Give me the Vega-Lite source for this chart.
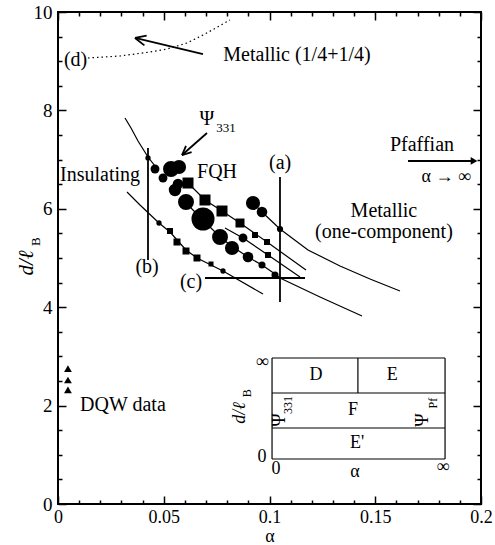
{
  "$schema": "https://vega.github.io/schema/vega-lite/v6.json",
  "width": 423,
  "height": 492,
  "autosize": "none",
  "padding": {"left": 58, "top": 12, "right": 14, "bottom": 41},
  "background": "white",
  "config": {
    "font": "Liberation Serif",
    "view": {"stroke": "black", "strokeWidth": 2},
    "axis": {"grid": false, "domain": false, "tickColor": "black", "labelColor": "black", "titleColor": "black", "labelFont": "Liberation Serif", "titleFont": "Liberation Serif", "labelFontSize": 19, "tickWidth": 1.5, "labelFlush": false, "labelOverlap": false, "titleFontWeight": "normal"}
  },
  "datasets": {
    "curves": [
      {"s": "ul", "i": 0, "x": 0.03168, "y": 7.846}, {"s": "ul", "i": 1, "x": 0.03452, "y": 7.642}, {"s": "ul", "i": 2, "x": 0.03783, "y": 7.378}, {"s": "ul", "i": 3, "x": 0.04255, "y": 7.053}, {"s": "ul", "i": 4, "x": 0.04728, "y": 6.789},
      {"s": "low", "i": 0, "x": 0.03262, "y": 6.341}, {"s": "low", "i": 1, "x": 0.03877, "y": 6.077}, {"s": "low", "i": 2, "x": 0.04775, "y": 5.711}, {"s": "low", "i": 3, "x": 0.05296, "y": 5.528}, {"s": "low", "i": 4, "x": 0.06052, "y": 5.163}, {"s": "low", "i": 5, "x": 0.06572, "y": 5.0}, {"s": "low", "i": 6, "x": 0.07234, "y": 4.858}, {"s": "low", "i": 7, "x": 0.07801, "y": 4.736}, {"s": "low", "i": 8, "x": 0.09693, "y": 4.268},
      {"s": "U", "i": 0, "x": 0.0922, "y": 6.118}, {"s": "U", "i": 1, "x": 0.09645, "y": 5.935}, {"s": "U", "i": 2, "x": 0.10496, "y": 5.589}, {"s": "U", "i": 3, "x": 0.1182, "y": 5.163}, {"s": "U", "i": 4, "x": 0.13333, "y": 4.837}, {"s": "U", "i": 5, "x": 0.14752, "y": 4.573}, {"s": "U", "i": 6, "x": 0.1617, "y": 4.329},
      {"s": "P", "i": 0, "x": 0.06147, "y": 6.524}, {"s": "P", "i": 1, "x": 0.0695, "y": 6.179}, {"s": "P", "i": 2, "x": 0.07754, "y": 5.955}, {"s": "P", "i": 3, "x": 0.08605, "y": 5.711}, {"s": "P", "i": 4, "x": 0.09882, "y": 5.325}, {"s": "P", "i": 5, "x": 0.11726, "y": 4.756},
      {"s": "M", "i": 0, "x": 0.06005, "y": 6.138}, {"s": "M", "i": 1, "x": 0.06856, "y": 5.772}, {"s": "M", "i": 2, "x": 0.0766, "y": 5.427}, {"s": "M", "i": 3, "x": 0.08274, "y": 5.224}, {"s": "M", "i": 4, "x": 0.08983, "y": 5.02}, {"s": "M", "i": 5, "x": 0.09645, "y": 4.858}, {"s": "M", "i": 6, "x": 0.1026, "y": 4.675}, {"s": "M", "i": 7, "x": 0.10496, "y": 4.593}, {"s": "M", "i": 8, "x": 0.12388, "y": 4.207}, {"s": "M", "i": 9, "x": 0.14374, "y": 3.821},
      {"s": "N", "i": 0, "x": 0.07896, "y": 5.61}, {"s": "N", "i": 1, "x": 0.08747, "y": 5.407}, {"s": "N", "i": 2, "x": 0.09929, "y": 5.061}, {"s": "N", "i": 3, "x": 0.11442, "y": 4.614}
    ],
    "dotted": [
      {"i": 0, "x": 0.01418, "y": 9.065}, {"i": 1, "x": 0.02931, "y": 9.106}, {"i": 2, "x": 0.0435, "y": 9.187}, {"i": 3, "x": 0.05154, "y": 9.248}, {"i": 4, "x": 0.06099, "y": 9.37}, {"i": 5, "x": 0.0695, "y": 9.553}, {"i": 6, "x": 0.08132, "y": 9.837}
    ],
    "marks": [
      {"x": 0.04255, "y": 7.033, "shape": "circle", "n": 28},
      {"x": 0.04586, "y": 6.809, "shape": "circle", "n": 79},
      {"x": 0.04965, "y": 6.626, "shape": "circle", "n": 79},
      {"x": 0.05343, "y": 6.809, "shape": "circle", "n": 254},
      {"x": 0.05721, "y": 6.85, "shape": "circle", "n": 201},
      {"x": 0.05674, "y": 6.504, "shape": "circle", "n": 113},
      {"x": 0.05532, "y": 6.382, "shape": "circle", "n": 154},
      {"x": 0.06052, "y": 6.138, "shape": "circle", "n": 254},
      {"x": 0.06856, "y": 5.793, "shape": "circle", "n": 531},
      {"x": 0.0766, "y": 5.427, "shape": "circle", "n": 254},
      {"x": 0.08227, "y": 5.203, "shape": "circle", "n": 201},
      {"x": 0.08747, "y": 5.407, "shape": "circle", "n": 79},
      {"x": 0.08983, "y": 5.02, "shape": "circle", "n": 113},
      {"x": 0.09645, "y": 4.858, "shape": "circle", "n": 50},
      {"x": 0.1026, "y": 4.654, "shape": "circle", "n": 50},
      {"x": 0.0922, "y": 6.118, "shape": "circle", "n": 201},
      {"x": 0.09645, "y": 5.935, "shape": "circle", "n": 113},
      {"x": 0.10496, "y": 5.589, "shape": "circle", "n": 38},
      {"x": 0.06147, "y": 6.524, "shape": "square", "n": 121},
      {"x": 0.0695, "y": 6.179, "shape": "square", "n": 121},
      {"x": 0.07754, "y": 5.955, "shape": "square", "n": 121},
      {"x": 0.08605, "y": 5.711, "shape": "square", "n": 81},
      {"x": 0.09314, "y": 5.467, "shape": "square", "n": 36},
      {"x": 0.09882, "y": 5.325, "shape": "square", "n": 36},
      {"x": 0.09929, "y": 5.061, "shape": "square", "n": 36},
      {"x": 0.04775, "y": 5.711, "shape": "circle", "n": 28},
      {"x": 0.05296, "y": 5.549, "shape": "square", "n": 36},
      {"x": 0.05626, "y": 5.325, "shape": "square", "n": 49},
      {"x": 0.06052, "y": 5.142, "shape": "square", "n": 49},
      {"x": 0.06572, "y": 5.0, "shape": "square", "n": 49},
      {"x": 0.07234, "y": 4.878, "shape": "square", "n": 25},
      {"x": 0.07801, "y": 4.736, "shape": "circle", "n": 28}
    ],
    "dqw": [
      {"x": 0.0047, "y": 2.75}, {"x": 0.0047, "y": 2.52}, {"x": 0.0047, "y": 2.32}
    ],
    "guides": [
      {"id": "a", "x": 0.10496, "x2": 0.10496, "y": 4.106, "y2": 6.646},
      {"id": "b", "x": 0.04255, "x2": 0.04255, "y": 4.959, "y2": 7.236},
      {"id": "c", "x": 0.0695, "x2": 0.11678, "y": 4.593, "y2": 4.593},
      {"id": "met", "x": 0.06856, "x2": 0.0364, "y": 9.146, "y2": 9.472},
      {"id": "met1", "x": 0.0364, "x2": 0.04085, "y": 9.472, "y2": 9.321},
      {"id": "met2", "x": 0.0364, "x2": 0.0419, "y": 9.472, "y2": 9.522},
      {"id": "psi", "x": 0.07045, "x2": 0.05863, "y": 7.541, "y2": 7.093},
      {"id": "psi1", "x": 0.05863, "x2": 0.06317, "y": 7.093, "y2": 7.15},
      {"id": "psi2", "x": 0.05863, "x2": 0.06052, "y": 7.093, "y2": 7.28},
      {"id": "pf", "x": 0.1655, "x2": 0.1962, "y": 6.972, "y2": 6.972}
    ],
    "heads": [{"x": 0.1967, "y": 6.972}],
    "inset": [
      {"x": 0.1012, "x2": 0.183, "y": 2.967, "y2": 2.967},
      {"x": 0.1012, "x2": 0.183, "y": 2.256, "y2": 2.256},
      {"x": 0.1012, "x2": 0.183, "y": 1.545, "y2": 1.545},
      {"x": 0.1012, "x2": 0.183, "y": 0.915, "y2": 0.915},
      {"x": 0.1012, "x2": 0.1012, "y": 0.915, "y2": 2.967},
      {"x": 0.183, "x2": 0.183, "y": 0.915, "y2": 2.967},
      {"x": 0.1418, "x2": 0.1418, "y": 2.256, "y2": 2.967}
    ],
    "labels": [
      {"t": "Metallic (1/4+1/4)", "x": 0.113, "y": 9.13},
      {"t": "(d)", "x": 0.0083, "y": 9.02},
      {"t": "Ψ", "x": 0.0704, "y": 7.82},
      {"t": "Pfaffian", "x": 0.1721, "y": 7.3},
      {"t": "Insulating", "x": 0.0199, "y": 6.69},
      {"t": "FQH", "x": 0.0752, "y": 6.75},
      {"t": "(a)", "x": 0.105, "y": 6.93},
      {"t": "(b)", "x": 0.0421, "y": 4.82},
      {"t": "(c)", "x": 0.0629, "y": 4.51},
      {"t": "Metallic", "x": 0.1541, "y": 5.95},
      {"t": "(one-component)", "x": 0.1541, "y": 5.52},
      {"t": "DQW  data", "x": 0.0307, "y": 2.02}
    ],
    "small": [
      {"t": "α → ∞", "x": 0.1835, "y": 6.65}
    ],
    "subs": [
      {"t": "331", "x": 0.0794, "y": 7.64}
    ],
    "insetLabels": [
      {"t": "D", "x": 0.122, "y": 2.62},
      {"t": "E", "x": 0.158, "y": 2.62},
      {"t": "F", "x": 0.1395, "y": 1.91},
      {"t": "E'", "x": 0.1414, "y": 1.24},
      {"t": "0", "x": 0.0965, "y": 0.96},
      {"t": "∞", "x": 0.0965, "y": 2.89},
      {"t": "0", "x": 0.1031, "y": 0.71},
      {"t": "α", "x": 0.1404, "y": 0.65},
      {"t": "∞", "x": 0.182, "y": 0.75}
    ],
    "rotPsi": [
      {"t": "Ψ", "x": 0.105, "y": 1.707},
      {"t": "Ψ", "x": 0.1726, "y": 1.707}
    ],
    "rotSubs": [
      {"t": "331", "x": 0.1087, "y": 2.01},
      {"t": "Pf", "x": 0.1773, "y": 2.05}
    ],
    "yTitle": [{"t": "d/ℓ", "x": -0.0147, "y": 4.9}],
    "yTitleSub": [{"t": "B", "x": -0.0104, "y": 5.33}],
    "insetTitle": [{"t": "d/ℓ", "x": 0.0862, "y": 1.85}],
    "insetTitleSub": [{"t": "B", "x": 0.0895, "y": 2.25}]
  },
  "resolve": {"axis": {"x": "independent", "y": "independent"}},
  "layer": [
    {
      "data": {"name": "curves"},
      "mark": {"type": "line", "color": "black", "strokeWidth": 1.2},
      "encoding": {
        "x": {"field": "x", "type": "quantitative", "scale": {"domain": [0, 0.2], "nice": false, "zero": false},
              "axis": {"orient": "bottom", "values": [0, 0.05, 0.1, 0.15, 0.2], "format": "~g", "tickSize": -8, "labelPadding": 12, "labelFontSize": 18, "title": "α", "titleFontSize": 18, "titlePadding": 1}},
        "y": {"field": "y", "type": "quantitative", "scale": {"domain": [0, 10], "nice": false, "zero": false},
              "axis": {"orient": "left", "values": [0, 2, 4, 6, 8, 10], "tickSize": -8, "labelPadding": 14, "title": null}},
        "detail": {"field": "s"},
        "order": {"field": "i"}
      }
    },
    {
      "data": {"name": "marks"},
      "mark": {"type": "point", "filled": true, "color": "black", "opacity": 1},
      "encoding": {
        "x": {"field": "x", "type": "quantitative",
              "axis": {"orient": "bottom", "values": [0.01, 0.02, 0.03, 0.04, 0.06, 0.07, 0.08, 0.09, 0.11, 0.12, 0.13, 0.14, 0.16, 0.17, 0.18, 0.19], "tickSize": -4, "labels": false, "title": null}},
        "y": {"field": "y", "type": "quantitative",
              "axis": {"orient": "left", "values": [0.5, 1, 1.5, 2.5, 3, 3.5, 4.5, 5, 5.5, 6.5, 7, 7.5, 8.5, 9, 9.5], "tickSize": -4, "labels": false, "title": null}},
        "shape": {"field": "shape", "type": "nominal", "scale": null, "legend": null},
        "size": {"field": "n", "type": "quantitative", "scale": {"domain": [0, 600], "range": [0, 600]}, "legend": null}
      }
    },
    {
      "data": {"name": "guides"},
      "mark": {"type": "rule", "color": "black", "strokeWidth": 1.8},
      "encoding": {
        "x": {"field": "x", "type": "quantitative",
              "axis": {"orient": "top", "values": [0, 0.05, 0.1, 0.15, 0.2], "tickSize": -8, "labels": false, "title": null}},
        "x2": {"field": "x2"},
        "y": {"field": "y", "type": "quantitative",
              "axis": {"orient": "right", "values": [0, 2, 4, 6, 8, 10], "tickSize": -8, "labels": false, "title": null}},
        "y2": {"field": "y2"}
      }
    },
    {
      "data": {"name": "inset"},
      "mark": {"type": "rule", "color": "black", "strokeWidth": 1.2},
      "encoding": {
        "x": {"field": "x", "type": "quantitative",
              "axis": {"orient": "top", "values": [0.01, 0.02, 0.03, 0.04, 0.06, 0.07, 0.08, 0.09, 0.11, 0.12, 0.13, 0.14, 0.16, 0.17, 0.18, 0.19], "tickSize": -4, "labels": false, "title": null}},
        "x2": {"field": "x2"},
        "y": {"field": "y", "type": "quantitative",
              "axis": {"orient": "right", "values": [0.5, 1, 1.5, 2.5, 3, 3.5, 4.5, 5, 5.5, 6.5, 7, 7.5, 8.5, 9, 9.5], "tickSize": -4, "labels": false, "title": null}},
        "y2": {"field": "y2"}
      }
    },
    {
      "data": {"name": "dotted"},
      "mark": {"type": "line", "color": "black", "strokeWidth": 1.2, "strokeDash": [1.5, 3]},
      "encoding": {
        "x": {"field": "x", "type": "quantitative", "axis": null},
        "y": {"field": "y", "type": "quantitative", "axis": null},
        "order": {"field": "i"}
      }
    },
    {
      "data": {"name": "dqw"},
      "mark": {"type": "point", "shape": "triangle-up", "filled": true, "color": "black", "size": 60, "opacity": 1},
      "encoding": {
        "x": {"field": "x", "type": "quantitative", "axis": null},
        "y": {"field": "y", "type": "quantitative", "axis": null}
      }
    },
    {
      "data": {"name": "heads"},
      "mark": {"type": "point", "shape": "triangle-right", "filled": true, "color": "black", "size": 60, "opacity": 1},
      "encoding": {
        "x": {"field": "x", "type": "quantitative", "axis": null},
        "y": {"field": "y", "type": "quantitative", "axis": null}
      }
    },
    {
      "data": {"name": "labels"},
      "mark": {"type": "text", "fontSize": 20, "color": "black", "align": "center", "baseline": "middle"},
      "encoding": {
        "x": {"field": "x", "type": "quantitative", "axis": null},
        "y": {"field": "y", "type": "quantitative", "axis": null},
        "text": {"field": "t"}
      }
    },
    {
      "data": {"name": "small"},
      "mark": {"type": "text", "fontSize": 18, "color": "black", "align": "center", "baseline": "middle"},
      "encoding": {
        "x": {"field": "x", "type": "quantitative", "axis": null},
        "y": {"field": "y", "type": "quantitative", "axis": null},
        "text": {"field": "t"}
      }
    },
    {
      "data": {"name": "subs"},
      "mark": {"type": "text", "fontSize": 13, "color": "black", "align": "center", "baseline": "middle"},
      "encoding": {
        "x": {"field": "x", "type": "quantitative", "axis": null},
        "y": {"field": "y", "type": "quantitative", "axis": null},
        "text": {"field": "t"}
      }
    },
    {
      "data": {"name": "insetLabels"},
      "mark": {"type": "text", "fontSize": 18, "color": "black", "align": "center", "baseline": "middle"},
      "encoding": {
        "x": {"field": "x", "type": "quantitative", "axis": null},
        "y": {"field": "y", "type": "quantitative", "axis": null},
        "text": {"field": "t"}
      }
    },
    {
      "data": {"name": "rotPsi"},
      "mark": {"type": "text", "fontSize": 18, "color": "black", "align": "center", "baseline": "middle", "angle": 270},
      "encoding": {
        "x": {"field": "x", "type": "quantitative", "axis": null},
        "y": {"field": "y", "type": "quantitative", "axis": null},
        "text": {"field": "t"}
      }
    },
    {
      "data": {"name": "rotSubs"},
      "mark": {"type": "text", "fontSize": 12, "color": "black", "align": "center", "baseline": "middle", "angle": 270},
      "encoding": {
        "x": {"field": "x", "type": "quantitative", "axis": null},
        "y": {"field": "y", "type": "quantitative", "axis": null},
        "text": {"field": "t"}
      }
    },
    {
      "data": {"name": "yTitle"},
      "mark": {"type": "text", "fontSize": 21, "fontStyle": "italic", "color": "black", "align": "center", "baseline": "middle", "angle": 270},
      "encoding": {
        "x": {"field": "x", "type": "quantitative", "axis": null},
        "y": {"field": "y", "type": "quantitative", "axis": null},
        "text": {"field": "t"}
      }
    },
    {
      "data": {"name": "yTitleSub"},
      "mark": {"type": "text", "fontSize": 13, "color": "black", "align": "center", "baseline": "middle", "angle": 270},
      "encoding": {
        "x": {"field": "x", "type": "quantitative", "axis": null},
        "y": {"field": "y", "type": "quantitative", "axis": null},
        "text": {"field": "t"}
      }
    },
    {
      "data": {"name": "insetTitle"},
      "mark": {"type": "text", "fontSize": 18, "fontStyle": "italic", "color": "black", "align": "center", "baseline": "middle", "angle": 270},
      "encoding": {
        "x": {"field": "x", "type": "quantitative", "axis": null},
        "y": {"field": "y", "type": "quantitative", "axis": null},
        "text": {"field": "t"}
      }
    },
    {
      "data": {"name": "insetTitleSub"},
      "mark": {"type": "text", "fontSize": 12, "color": "black", "align": "center", "baseline": "middle", "angle": 270},
      "encoding": {
        "x": {"field": "x", "type": "quantitative", "axis": null},
        "y": {"field": "y", "type": "quantitative", "axis": null},
        "text": {"field": "t"}
      }
    }
  ]
}
